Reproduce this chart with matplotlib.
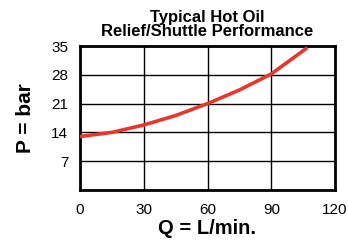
import matplotlib
matplotlib.use("Agg")
import matplotlib.pyplot as plt

plt.rcParams['font.family'] = ['Liberation Sans', 'DejaVu Sans']

flow = [0, 15, 30, 45, 60, 75, 90, 107]
pressure = [13.0, 14.0, 15.8, 18.1, 21.0, 24.3, 28.2, 34.6]
xticks = [0, 30, 60, 90, 120]
yticks = [7, 14, 21, 28, 35]

fig = plt.figure(figsize=(3.48, 2.4), dpi=100)
ax = fig.add_axes([80 / 348, 1 - 190 / 240, 255 / 348, 144 / 240])

ax.plot(flow, pressure, color="#e8362c", lw=2.6, solid_capstyle="butt", zorder=3)

ax.set_xlim(0, 120)
ax.set_ylim(0, 35)
ax.set_xticks(xticks)
ax.set_yticks(yticks)
ax.tick_params(length=0, labelsize=11)
ax.tick_params(axis="x", pad=9)
ax.tick_params(axis="y", pad=8.5)
ax.grid(True, color="black", lw=1)
for s in ax.spines.values():
    s.set_linewidth(2)

ax.set_xlabel("Q = L/min.", fontsize=14.5, fontweight="bold", labelpad=2)
ax.set_ylabel("P = bar", fontsize=15, fontweight="bold", labelpad=12)
ax.set_title("Typical Hot Oil\nRelief/Shuttle Performance", fontsize=12,
             fontweight="bold", linespacing=0.9, pad=7)

fig.savefig("out.png", dpi=100)
